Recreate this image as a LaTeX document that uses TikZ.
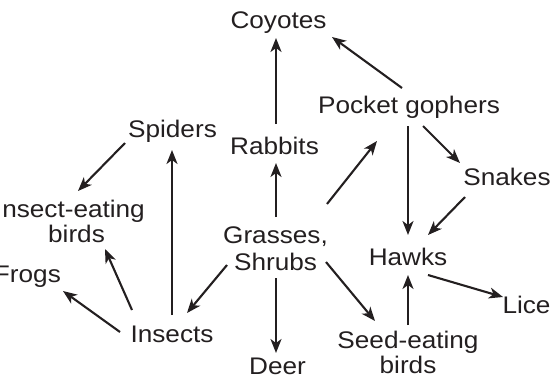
\documentclass[tikz,border=0pt]{standalone}
\usepackage{fontspec}
\setmainfont{Liberation Sans}[FakeStretch=1.09]
\usetikzlibrary{arrows.meta}
\definecolor{ink}{HTML}{231F20}
\begin{document}
\begin{tikzpicture}[x=1pt,y=-1pt,
  lbl/.style={inner sep=0pt, outer sep=0pt, font=\fontsize{24}{25}\selectfont, text=ink, align=center},
  arr/.style={line width=2.1pt, draw=ink, -{Stealth[length=14pt,width=11pt,inset=4pt]}}]
\useasboundingbox (0,0) rectangle (556,381);
\clip (0,0) rectangle (556,381);
\node[lbl, anchor=base] (coy) at (278.5,28) {Coyotes};
\node[lbl, anchor=base] (pg) at (409,113) {Pocket gophers};
\node[lbl, anchor=base] (rab) at (274.5,154) {Rabbits};
\node[lbl, anchor=base] (spi) at (172.5,137) {Spiders};
\node[lbl, anchor=base] (sna) at (507,185) {Snakes};
\node[lbl, anchor=base] (haw) at (408,265) {Hawks};
\node[lbl, anchor=base] (lic) at (526.5,313) {Lice};
\node[lbl, anchor=base west] (fro) at (-6,282) {Frogs};
\node[lbl, anchor=base] (ins) at (172,342) {Insects};
\node[lbl, anchor=base] (dee) at (277.5,374) {Deer};
\node[lbl, anchor=base, font=\fontsize{24}{27}\selectfont] (gr) at (275.5,270) {Grasses,\\Shrubs};
\node[lbl, anchor=base] (ieb) at (69.9,242) {Insect-eating\\\hspace*{13.2pt}birds};
\node[lbl, anchor=base] (se) at (408,373) {Seed-eating\\birds};
\draw[arr] ([shift={(1.5,-30)}]rab.base) -- ([shift={(-2.5,10)}]coy.base);
\draw[arr] ([shift={(-7,-25)}]pg.base) -- ([shift={(53.5,9)}]coy.base);
\draw[arr] ([shift={(0.5,-53)}]gr.base) -- ([shift={(1.5,9)}]rab.base);
\draw[arr] ([shift={(51.5,-66)}]gr.base) -- ([shift={(-32,28)}]pg.base);
\draw[arr] ([shift={(-1,13)}]pg.base) -- ([shift={(0,-30)}]haw.base);
\draw[arr] ([shift={(14,13)}]pg.base) -- ([shift={(-47,-22)}]sna.base);
\draw[arr] ([shift={(-42,12)}]sna.base) -- ([shift={(20,-30)}]haw.base);
\draw[arr] ([shift={(20,10)}]haw.base) -- ([shift={(-23.5,-16)}]lic.base);
\draw[arr] ([shift={(0,-48)}]se.base) -- ([shift={(0,10)}]haw.base);
\draw[arr] ([shift={(50.5,-8)}]gr.base) -- ([shift={(-33,-52)}]se.base);
\draw[arr] ([shift={(0.5,8)}]gr.base) -- ([shift={(-1.5,-21)}]dee.base);
\draw[arr] ([shift={(-48.5,-5)}]gr.base) -- ([shift={(15,-29)}]ins.base);
\draw[arr] ([shift={(0,-27)}]ins.base) -- ([shift={(-0.5,13)}]spi.base);
\draw[arr] ([shift={(-40,-32)}]ins.base) -- ([shift={(35.1,7)}]ieb.base);
\draw[arr] ([shift={(-52,-10)}]ins.base) -- ([shift={(69,9)}]fro.base west);
\draw[arr] ([shift={(-47.5,6)}]spi.base) -- ([shift={(8.1,-51)}]ieb.base);
\end{tikzpicture}
\end{document}
